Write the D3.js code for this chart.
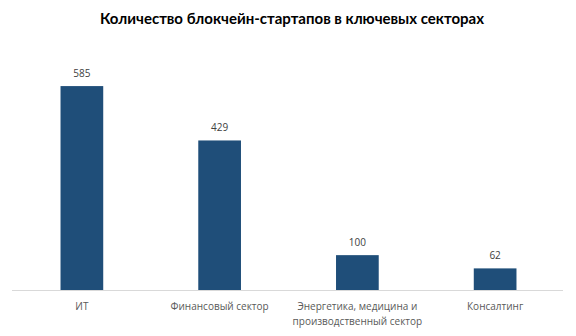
<!DOCTYPE html>
<html><head><meta charset="utf-8">
<script src="https://cdn.jsdelivr.net/npm/d3@7"></script>
<style>body{margin:0;background:#fff}svg{display:block}</style>
</head><body><svg id="c" width="576" height="336"></svg>
<script>
const title = "Количество блокчейн-стартапов в ключевых секторах";
const categories = [["ИТ"], ["Финансовый сектор"], ["Энергетика, медицина и", "производственный сектор"], ["Консалтинг"]];
const values = [585, 429, 100, 62];

const svg = d3.select("#c");
svg.append("rect").attr("width",576).attr("height",336).attr("fill","#fff");
const x = d3.scaleBand().domain(d3.range(categories.length)).range([13, 564]).paddingInner(0.69).paddingOuter(0.345);
const y = d3.scaleLinear().domain([0, 700]).range([290, 46]);

svg.append("text").attr("x", 292).attr("y", 24).attr("text-anchor","middle")
  .attr("font-family","Lato, 'Open Sans', sans-serif").attr("font-weight","bold").attr("font-size",14.5)
  .attr("fill","#000").attr("textLength",384).attr("lengthAdjust","spacingAndGlyphs").text(title);

svg.selectAll("rect.bar").data(values).join("rect").attr("class","bar")
  .attr("x",(d,i)=>x(i)).attr("width",x.bandwidth())
  .attr("y",d=>y(d)).attr("height",d=>y(0)-y(d)).attr("fill","#1f4e79");

const axis = d3.axisBottom(x).tickSize(0).tickFormat(()=>"");
const g = svg.append("g").attr("transform","translate(0,290.5)").call(axis);
g.select(".domain").attr("stroke","#d9d9d9").attr("stroke-width",1).attr("d","M12,0H563");

svg.selectAll("text.val").data(values).join("text").attr("class","val")
  .attr("x",(d,i)=>x(i)+x.bandwidth()/2).attr("y",d=>y(d)-9)
  .attr("text-anchor","middle").attr("font-family","'Open Sans', sans-serif").attr("font-size",10)
  .attr("fill","#404040").text(d=>d);

categories.forEach((lines,i)=>{
  lines.forEach((t,j)=>{
    svg.append("text").attr("x",x(i)+x.bandwidth()/2).attr("y",310+j*15)
      .attr("text-anchor","middle").attr("font-family","'Open Sans', sans-serif").attr("font-size",10)
      .attr("fill","#595959").text(t);
  });
});
</script></body></html>
